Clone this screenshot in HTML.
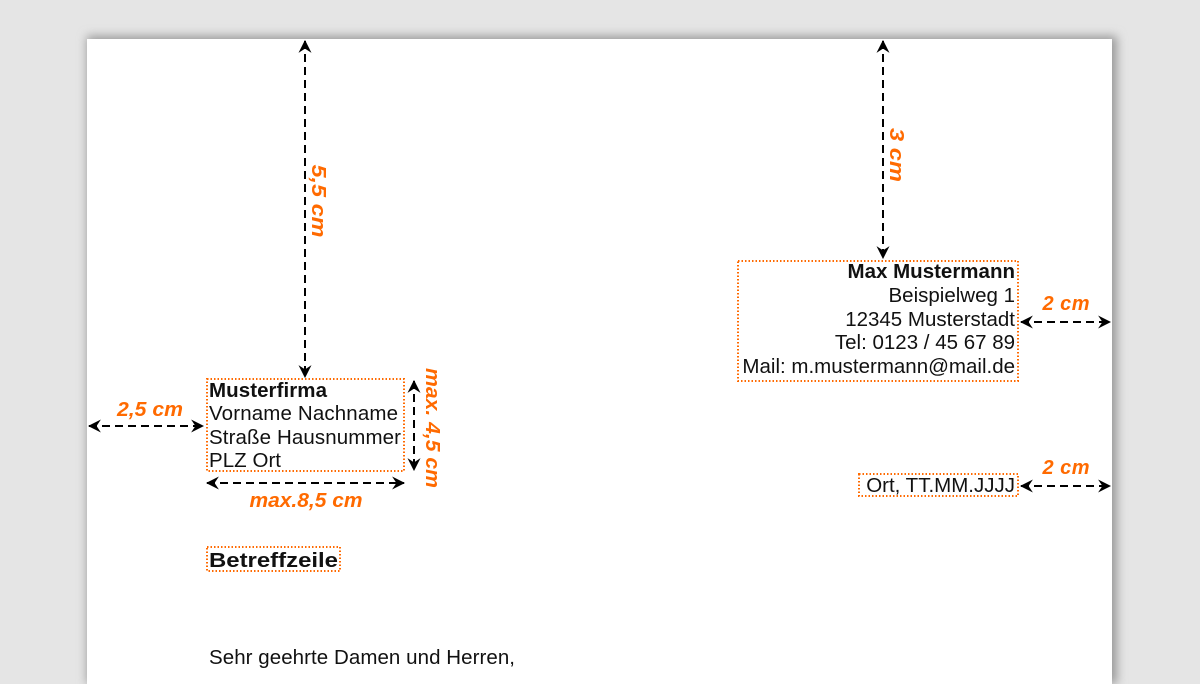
<!DOCTYPE html>
<html><head><meta charset="utf-8"><style>
html,body{margin:0;padding:0;background:#e5e5e5;width:1200px;height:684px;overflow:hidden}
svg{display:block}
text{font-family:"Liberation Sans",sans-serif}
.o{fill:#ff6a00;font-weight:bold;font-style:italic;font-size:20px}
.t{fill:#111;font-size:20.5px}
</style></head><body>
<svg width="1200" height="684" viewBox="0 0 1200 684">
<defs>
<filter id="sh" x="-5%" y="-5%" width="110%" height="110%"><feGaussianBlur stdDeviation="5"/></filter>
<marker id="a" viewBox="0 0 12 12" refX="11" refY="6" markerWidth="13" markerHeight="13" orient="auto-start-reverse" markerUnits="userSpaceOnUse"><path d="M0,0 L12,6 L0,12 L4,6 z" fill="#000"/></marker>
</defs>
<rect x="87" y="36" width="1030" height="648" fill="#999" filter="url(#sh)"/>
<rect x="87" y="39" width="1025" height="645" fill="#fff"/>
<g stroke="#000" stroke-width="2" stroke-dasharray="8,5" fill="none" marker-start="url(#a)" marker-end="url(#a)">
<line x1="305" y1="41" x2="305" y2="377"/>
<line x1="883" y1="41" x2="883" y2="258"/>
<line x1="89" y1="426" x2="203" y2="426"/>
<line x1="414" y1="381" x2="414" y2="470"/>
<line x1="207" y1="483" x2="404" y2="483"/>
<line x1="1021" y1="322" x2="1110" y2="322"/>
<line x1="1021" y1="486" x2="1110" y2="486"/>
</g>
<g stroke="#ff6a00" stroke-width="2" stroke-dasharray="1.5,2" fill="none">
<rect x="207" y="379" width="197" height="92"/>
<rect x="738" y="261" width="280" height="120"/>
<rect x="859" y="474" width="159" height="22"/>
<rect x="207" y="547" width="133" height="24"/>
</g>
<text class="o" transform="translate(312,201) rotate(90)" text-anchor="middle" font-size="23" textLength="73" lengthAdjust="spacingAndGlyphs">5,5 cm</text>
<text class="o" transform="translate(890,155) rotate(90)" text-anchor="middle" font-size="23" textLength="54" lengthAdjust="spacingAndGlyphs">3 cm</text>
<text class="o" transform="translate(426,428) rotate(90)" text-anchor="middle" font-size="21" textLength="120" lengthAdjust="spacingAndGlyphs">max. 4,5 cm</text>
<text class="o" x="150" y="416" text-anchor="middle" textLength="66" lengthAdjust="spacingAndGlyphs">2,5 cm</text>
<text class="o" x="306" y="507" text-anchor="middle" textLength="113" lengthAdjust="spacingAndGlyphs">max.8,5 cm</text>
<text class="o" x="1066" y="310" text-anchor="middle" textLength="47">2 cm</text>
<text class="o" x="1066" y="474" text-anchor="middle" textLength="47">2 cm</text>
<text class="t" x="209" y="397" font-weight="bold" textLength="118">Musterfirma</text>
<text class="t" x="209" y="420" textLength="189">Vorname Nachname</text>
<text class="t" x="209" y="444" textLength="192">Straße Hausnummer</text>
<text class="t" x="209" y="467" textLength="72">PLZ Ort</text>
<g text-anchor="end">
<text class="t" x="1015" y="278" font-weight="bold">Max Mustermann</text>
<text class="t" x="1015" y="302">Beispielweg 1</text>
<text class="t" x="1015" y="326">12345 Musterstadt</text>
<text class="t" x="1015" y="349">Tel: 0123 / 45 67 89</text>
<text class="t" x="1015" y="373">Mail: m.mustermann@mail.de</text>
<text class="t" x="1015" y="492">Ort, TT.MM.JJJJ</text>
</g>
<text class="t" x="209" y="567" font-weight="bold" font-size="24" textLength="129" lengthAdjust="spacingAndGlyphs">Betreffzeile</text>
<text class="t" x="209" y="664" font-size="19.5" textLength="306">Sehr geehrte Damen und Herren,</text>
</svg>
</body></html>
